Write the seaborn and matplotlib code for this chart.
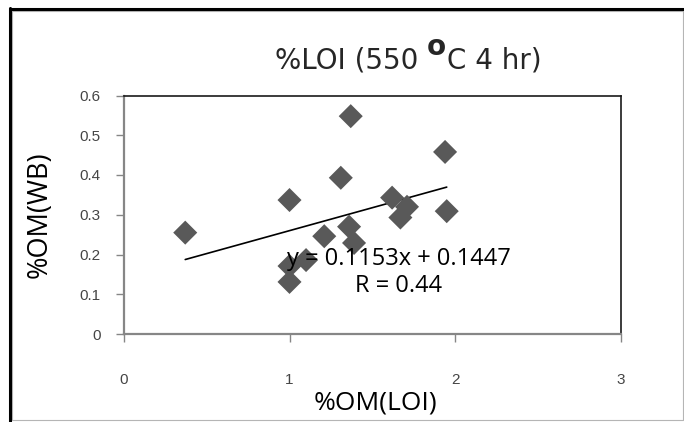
import numpy as np
import pandas as pd
import matplotlib
matplotlib.use("Agg")
import matplotlib.pyplot as plt
from matplotlib.lines import Line2D
import seaborn as sns

# %OM by loss on ignition vs %OM by Walkley-Black
om_loi = [0.37, 1.00, 1.00, 1.00, 1.10, 1.21, 1.31, 1.37, 1.36, 1.39,
          1.62, 1.71, 1.67, 1.94, 1.95]
om_wb = [0.255, 0.337, 0.171, 0.131, 0.186, 0.246, 0.393, 0.548, 0.270, 0.229,
         0.343, 0.320, 0.293, 0.458, 0.309]

slope = 0.1153
intercept = 0.1447
r_value = 0.44

x_ticks = [0, 1, 2, 3]
y_ticks = [0, 0.1, 0.2, 0.3, 0.4, 0.5, 0.6]
y_tick_labels = ["0", "0.1", "0.2", "0.3", "0.4", "0.5", "0.6"]

title_text = "%LOI (550 "
title_deg = "o"
title_tail = "C 4 hr)"
x_label = "%OM(LOI)"
y_label = "%OM(WB)"

df = pd.DataFrame({"loi": om_loi, "wb": om_wb})

sns.set_theme(style="white")
plt.rcParams["font.family"] = ["Liberation Sans", "DejaVu Sans"]

W, H = 684, 422
fig = plt.figure(figsize=(W / 100, H / 100), dpi=100)
ax = fig.add_axes([124 / W, 1 - 334 / H, (620.5 - 124) / W, (334 - 95.5) / H])


def fx(px):
    return px / W


def fy(py):
    return 1 - py / H


# chart area frame and the heavy page borders
fig.add_artist(Line2D([fx(12), fx(683), fx(683), fx(12), fx(12)],
                      [fy(10.5), fy(10.5), fy(420), fy(420), fy(10.5)],
                      color="#b5b5b5", lw=0.8))
fig.add_artist(Line2D([fx(10), fx(684)], [fy(9), fy(9)], color="black", lw=2.2))
fig.add_artist(Line2D([fx(10), fx(10)], [fy(8), fy(422)], color="black", lw=2.2))

sns.scatterplot(data=df, x="loi", y="wb", marker="D", s=150, color="#595959",
                edgecolor="none", ax=ax, zorder=3)

xs = np.array([min(om_loi), max(om_loi)])
sns.lineplot(x=xs, y=slope * xs + intercept, color="black", lw=1.2, ax=ax, zorder=2)

ax.set_xlim(0, 3)
ax.set_ylim(0, 0.6)
ax.set_xticks(x_ticks)
ax.set_xticklabels([str(t) for t in x_ticks])
ax.set_yticks(y_ticks)
ax.set_yticklabels(y_tick_labels)

ax.tick_params(axis="both", which="major", direction="out", length=6, width=1,
               color="#868686", labelsize=11, labelcolor="#454545")
ax.tick_params(axis="x", pad=22)
ax.tick_params(axis="y", pad=11)
ax.tick_params(bottom=True, left=True)

for side in ["left", "bottom"]:
    ax.spines[side].set_color("#868686")
    ax.spines[side].set_linewidth(1.6)
for side in ["top", "right"]:
    ax.spines[side].set_color("#1a1a1a")
    ax.spines[side].set_linewidth(1.2)
    ax.spines[side].set_visible(True)

ax.set_xlabel("")
ax.set_ylabel("")
lfont = ["Open Sans", "DejaVu Sans"]
fig.text(fx(375), fy(410), x_label, ha="center", va="baseline", fontsize=19,
         family=lfont, color="black")
fig.text(fx(40), fy(215), y_label, ha="center", va="center", fontsize=19.5,
         rotation=90, family=lfont, color="black")

# title with a raised bold degree mark
tfont = ["DejaVu Sans"]
t1 = fig.text(fx(275), fy(69), title_text, ha="left", va="baseline", fontsize=20,
              family=tfont)
fig.canvas.draw()
bb = t1.get_window_extent()
t2 = fig.text(bb.x1 / W, fy(55), title_deg, ha="left", va="baseline", fontsize=20,
              fontweight="bold", family=tfont)
fig.canvas.draw()
bb2 = t2.get_window_extent()
fig.text(bb2.x1 / W + 1 / W, fy(69), title_tail, ha="left", va="baseline",
         fontsize=20, family=tfont)

eq_text = f"y = {slope:.4f}x + {intercept:.4f}"
ax.text(1.66, 0.1736, eq_text, ha="center", va="baseline", fontsize=17,
        family=lfont, color="black", zorder=4)
ax.text(1.66, 0.1057, f"R = {r_value:.2f}", ha="center", va="baseline", fontsize=17,
        family=lfont, color="black", zorder=4)

fig.savefig("out.png", dpi=100)
